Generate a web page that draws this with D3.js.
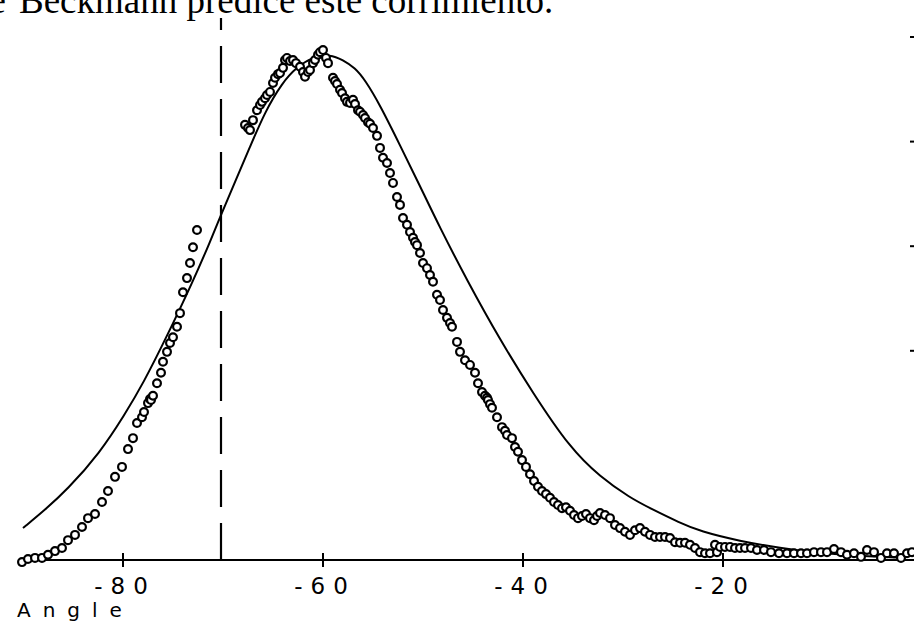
<!DOCTYPE html>
<html>
<head>
<meta charset="utf-8">
<script src="https://cdn.jsdelivr.net/npm/d3@7"></script>
<style>
  html, body { margin: 0; padding: 0; background: #fff; }
  svg { display: block; }
</style>
</head>
<body>
<svg id="chart" width="914" height="624"></svg>
<script>
// ---------------- data ----------------
const titleText = "Beckmann predice este corrimiento.";
const xTicks = [-80, -60, -40, -20];
const yTicks = [40, 60, 80, 100];
const xLabel = "Angle";
const markerAngle = -70.2;

// measured points [angle (deg), intensity (% of full scale)]
const risingArm = [
  [-90.1,-0.4],[-89.5,0.2],[-88.8,0.4],[-88.1,0.4],[-87.5,1.0],[-86.8,1.7],[-86.1,2.3],[-85.5,3.8],
  [-84.8,4.8],[-84.1,6.3],[-83.5,8.0],[-82.8,8.8],[-82.1,11.1],[-81.5,13.2],[-80.8,15.9],[-80.1,17.8],
  [-79.5,21.2],[-79.0,23.3],[-78.6,26.2],[-78.1,27.3],[-77.9,28.3],[-77.5,30.0],[-77.3,30.8],[-77.2,30.6],
  [-77.0,31.4],[-76.6,33.8],[-76.2,35.8],[-76.0,37.9],[-75.6,39.8],[-75.3,41.5],[-75.0,42.6],[-74.6,44.6],
  [-74.3,47.2],[-74.0,51.2],[-73.6,53.9],[-73.3,56.8],[-73.0,59.8],[-72.6,63.1]
];
const peakCluster = [
  [-67.8,83.2],[-67.5,82.6],[-67.3,82.2],[-67.0,84.1],[-66.6,86.0],[-66.3,87.0],[-66.1,87.6],[-65.8,88.3],
  [-65.6,88.9],[-65.3,89.5],[-65.0,91.2],[-64.8,92.2],[-64.5,92.9],[-64.3,93.1],[-64.0,94.1],[-63.8,95.6],
  [-63.6,96.0],[-63.3,95.4],[-63.0,95.6],[-62.7,95.0],[-62.3,94.3],[-62.0,93.3],[-61.8,92.4],[-61.5,93.3],
  [-61.3,93.7],[-61.0,95.0],[-60.8,95.6],[-60.5,96.6],[-60.3,97.1],[-60.0,97.5],[-59.7,96.0],[-59.5,95.0]
];
const fallingArm = [
  [-59.0,92.2],[-58.8,91.6],[-58.6,91.0],[-58.3,89.9],[-58.1,89.3],[-57.8,88.3],[-57.6,87.6],[-57.3,87.4],
  [-57.0,88.0],[-56.8,87.2],[-56.5,86.0],[-56.3,85.7],[-56.0,85.1],[-55.8,84.5],[-55.5,83.7],[-55.3,83.4],
  [-55.0,82.6],[-54.6,81.1],[-54.3,78.8],[-54.0,76.9],[-53.6,75.9],[-53.3,74.0],[-53.0,72.1],[-52.6,69.4],
  [-52.3,67.9],[-52.0,65.4],[-51.6,64.1],[-51.3,62.7],[-51.0,61.6],[-50.8,60.8],[-50.6,60.2],[-50.3,58.7],
  [-50.0,56.8],[-49.6,55.8],[-49.3,54.5],[-49.0,53.2],[-48.6,50.7],[-48.3,49.7],[-48.0,47.8],[-47.6,46.3],
  [-47.3,45.3],[-47.1,44.6],[-46.6,41.7],[-46.3,39.8],[-45.8,38.2],[-45.3,37.3],[-44.8,35.8],[-44.5,33.8],
  [-44.1,32.1],[-43.8,31.4],[-43.6,31.0],[-43.5,30.6],[-43.3,29.8],[-43.1,29.1],[-42.6,27.3],[-42.1,25.4],
  [-41.8,24.7],[-41.6,23.9],[-41.1,23.3],[-40.8,21.6],[-40.5,20.7],[-40.1,19.1],[-39.7,17.8],[-39.3,16.4],
  [-38.9,15.1],[-38.5,14.0],[-38.1,13.2],[-37.7,12.6],[-37.3,11.9],[-36.9,11.1],[-36.5,10.5],[-36.1,9.9],
  [-35.7,10.1],[-35.3,9.4],[-34.9,8.6],[-34.5,8.0],[-34.1,8.4],[-33.7,8.8],[-33.3,8.0],[-32.9,7.6],[-32.6,8.4]
];
const tail = [
  [-32.3,9.0],[-31.8,8.6],[-31.3,8.0],[-30.8,6.7],[-30.3,6.1],[-29.8,5.4],[-29.3,4.8],[-28.8,5.7],
  [-28.3,6.1],[-27.8,5.4],[-27.3,4.8],[-26.8,4.4],[-26.3,4.4],[-25.8,4.4],[-25.3,4.2],[-24.8,3.4],
  [-24.3,3.3],[-23.8,3.3],[-23.3,2.9],[-22.8,2.3],[-22.3,1.5],[-21.8,1.3],[-21.3,1.3],[-20.8,2.9],
  [-20.6,1.5],[-20.3,2.5],[-19.8,2.5],[-19.3,2.5],[-18.8,2.3],[-18.3,2.3],[-17.8,2.3],[-17.2,2.3],
  [-16.6,1.9],[-15.9,1.9],[-15.2,1.5],[-14.4,1.3],[-13.6,1.3],[-12.9,1.3],[-12.2,1.3],[-11.6,1.3],
  [-10.9,1.5],[-10.2,1.5],[-9.6,1.5],[-8.9,2.1],[-8.2,1.5],[-7.6,1.0],[-6.9,1.3],[-6.2,0.6],
  [-5.6,1.9],[-4.9,1.5],[-4.2,0.4],[-3.6,1.3],[-2.9,1.3],[-2.2,0.4],[-1.6,1.3],[-1.1,1.5]
];

// model (Beckmann) curve [angle, intensity]
const modelCurve = [
  [-90.0,6.1],[-87.8,9.6],[-85.6,13.4],[-82.3,20.5],[-79.8,27.9],[-78.0,33.7],[-75.6,42.8],[-73.0,53.3],
  [-71.3,60.8],[-70.2,66.0],[-68.8,72.3],[-67.3,79.0],[-65.8,85.7],[-64.1,91.2],[-62.6,94.3],[-61.0,96.2],
  [-59.3,96.7],[-58.0,95.6],[-56.8,94.1],[-55.8,91.8],[-54.3,87.0],[-52.3,79.3],[-50.3,71.5],[-48.3,63.5],
  [-45.6,53.5],[-42.3,42.1],[-39.0,31.9],[-35.3,21.4],[-32.3,15.9],[-29.3,11.9],[-27.3,9.9],[-24.3,7.1],
  [-22.3,5.5],[-18.3,3.6],[-14.3,2.3],[-10.3,1.3],[-6.3,0.8],[-2.0,0.4]
];

// ---------------- drawing ----------------
const svg = d3.select("#chart");
const x = d3.scaleLinear().domain([-90, -2]).range([23, 903]);
const y = d3.scaleLinear().domain([0, 100]).range([560, 37]);

const serif = "'Liberation Serif', 'Times New Roman', serif";
const plotFont = "'DejaVu Sans', sans-serif";

// title (partially cut at top, as in the scan)
svg.append("text")
  .attr("x", 6).attr("y", 13)
  .attr("text-anchor", "end")
  .attr("font-family", serif).attr("font-size", 37)
  .attr("fill", "#000").text("e");
svg.append("text")
  .attr("x", 19).attr("y", 13)
  .attr("font-family", serif).attr("font-size", 37)
  .attr("fill", "#000").text(titleText);

// x axis line
svg.append("line")
  .attr("x1", x(-90)).attr("x2", 914)
  .attr("y1", y(0)).attr("y2", y(0))
  .attr("stroke", "#000").attr("stroke-width", 2);

// x ticks crossing axis
svg.selectAll(".xtick").data(xTicks).enter().append("line")
  .attr("x1", d => x(d)).attr("x2", d => x(d))
  .attr("y1", y(0) - 7).attr("y2", y(0) + 7)
  .attr("stroke", "#000").attr("stroke-width", 2);

svg.selectAll(".xlab").data(xTicks).enter().append("text")
  .attr("x", d => x(d) + 2).attr("y", 594)
  .attr("text-anchor", "middle")
  .attr("font-family", plotFont).attr("font-size", 23)
  .attr("letter-spacing", 8)
  .attr("fill", "#000")
  .text(d => "-" + Math.abs(d));

svg.append("text")
  .attr("x", 17).attr("y", 617)
  .attr("font-family", plotFont).attr("font-size", 20)
  .attr("letter-spacing", 12)
  .attr("fill", "#000")
  .text(xLabel);

// right-hand y ticks (small dots)
svg.selectAll(".ytick").data(yTicks).enter().append("line")
  .attr("x1", 910).attr("x2", 914)
  .attr("y1", d => y(d)).attr("y2", d => y(d))
  .attr("stroke", "#000").attr("stroke-width", 2);

// dashed vertical marker
svg.append("line")
  .attr("x1", x(markerAngle)).attr("x2", x(markerAngle))
  .attr("y1", y(0)).attr("y2", 18)
  .attr("stroke", "#000").attr("stroke-width", 2.2)
  .attr("stroke-dasharray", "37,16");

// model curve
svg.append("path")
  .datum(modelCurve)
  .attr("d", d3.line().x(d => x(d[0])).y(d => y(d[1])).curve(d3.curveBasis))
  .attr("fill", "none").attr("stroke", "#000").attr("stroke-width", 2);

// measured circles
const measured = [].concat(risingArm, peakCluster, fallingArm, tail);
svg.selectAll(".pt").data(measured).enter().append("circle")
  .attr("cx", d => x(d[0])).attr("cy", d => y(d[1]))
  .attr("r", 3.9)
  .attr("fill", "#fff").attr("stroke", "#000").attr("stroke-width", 2.2);
</script>
</body>
</html>
